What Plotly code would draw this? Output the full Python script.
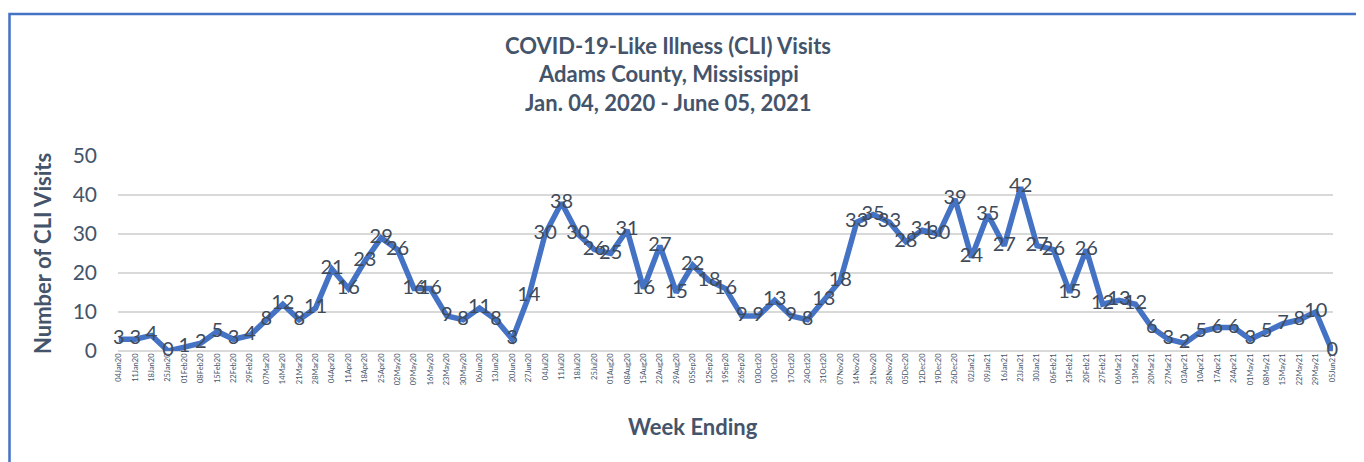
import plotly.graph_objects as go

weeks = ["04Jan20","11Jan20","18Jan20","25Jan20","01Feb20","08Feb20","15Feb20","22Feb20","29Feb20",
         "07Mar20","14Mar20","21Mar20","28Mar20","04Apr20","11Apr20","18Apr20","25Apr20","02May20",
         "09May20","16May20","23May20","30May20","06Jun20","13Jun20","20Jun20","27Jun20","04Jul20",
         "11Jul20","18Jul20","25Jul20","01Aug20","08Aug20","15Aug20","22Aug20","29Aug20","05Sep20",
         "12Sep20","19Sep20","26Sep20","03Oct20","10Oct20","17Oct20","24Oct20","31Oct20","07Nov20",
         "14Nov20","21Nov20","28Nov20","05Dec20","12Dec20","19Dec20","26Dec20","02Jan21","09Jan21",
         "16Jan21","23Jan21","30Jan21","06Feb21","13Feb21","20Feb21","27Feb21","06Mar21","13Mar21",
         "20Mar21","27Mar21","03Apr21","10Apr21","17Apr21","24Apr21","01May21","08May21","15May21",
         "22May21","29May21","05Jun21"]
visits = [3,3,4,0,1,2,5,3,4,
          8,12,8,11,21,16,23,29,26,
          16,16,9,8,11,8,3,14,30,
          38,30,26,25,31,16,27,15,22,
          18,16,9,9,13,9,8,13,18,
          33,35,33,28,31,30,39,24,35,
          27,42,27,26,15,26,12,13,12,
          6,3,2,5,6,6,3,5,7,
          8,10,0]
title_lines = ["COVID-19-Like Illness (CLI) Visits", "Adams County, Mississippi", "Jan. 04, 2020 - June 05, 2021"]
y_ticks = [0, 10, 20, 30, 40, 50]

FONT = "Lato"
SLATE = "#44546A"
OFF = 8  # page body margin offset

fig = go.Figure()
fig.add_trace(go.Scatter(
    x=list(range(len(weeks))), y=visits, mode="lines+text",
    line=dict(color="#4472C4", width=5.5),
    text=[str(v) for v in visits], textposition="middle center",
    textfont=dict(family=FONT, size=20, color="#404B5A"),
    cliponaxis=False, hoverinfo="skip", showlegend=False,
))

W, H = 1364, 462
L = 118 - OFF
T = 156 - OFF
R = W - (1333 - OFF)
B = H - (351 - OFF)
pw = W - L - R
ph = H - T - B

def px(x):
    return (x - OFF - L) / pw

def py(y):
    return (H - B - (y - OFF)) / ph

annotations = []
for line, yy in zip(title_lines, [45, 74, 102]):
    annotations.append(dict(text="<b>%s</b>" % line, xref="paper", yref="paper",
                            x=px(668), y=py(yy), xanchor="center", yanchor="middle",
                            showarrow=False, font=dict(family=FONT, size=22, color=SLATE)))
annotations.append(dict(text="<b>Number of CLI Visits</b>", xref="paper", yref="paper",
                        x=px(42), y=py(254), xanchor="center", yanchor="middle", textangle=-90,
                        showarrow=False, font=dict(family=FONT, size=22, color=SLATE)))
annotations.append(dict(text="<b>Week Ending</b>", xref="paper", yref="paper",
                        x=px(693), y=py(426), xanchor="center", yanchor="middle",
                        showarrow=False, font=dict(family=FONT, size=22, color=SLATE)))

fig.update_layout(
    width=W, height=H,
    margin=dict(l=L, r=R, t=T, b=B),
    paper_bgcolor="white", plot_bgcolor="white",
    annotations=annotations,
    shapes=[dict(type="rect", xref="paper", yref="paper",
                 x0=px(OFF + 1.5), x1=px(1362), y0=py(480), y1=py(14),
                 line=dict(color="#4472C4", width=2.5), fillcolor="rgba(0,0,0,0)", layer="below")],
    xaxis=dict(tickmode="array", tickvals=list(range(len(weeks))), ticktext=weeks,
               tickangle=-90, tickfont=dict(family=FONT, size=7.5, color=SLATE),
               range=[-0.05, len(weeks) - 1 + 0.05], showgrid=False, zeroline=False,
               showline=False, ticks=""),
    yaxis=dict(range=[0, 50], tickvals=y_ticks, tickfont=dict(family=FONT, size=21, color=SLATE),
               showgrid=True, gridcolor="#D9D9D9", gridwidth=1.5, zeroline=True,
               zerolinecolor="#D9D9D9", zerolinewidth=1.5, showline=False, ticks="",
               ticklabelstandoff=20),
)

fig.write_html("out.html")
